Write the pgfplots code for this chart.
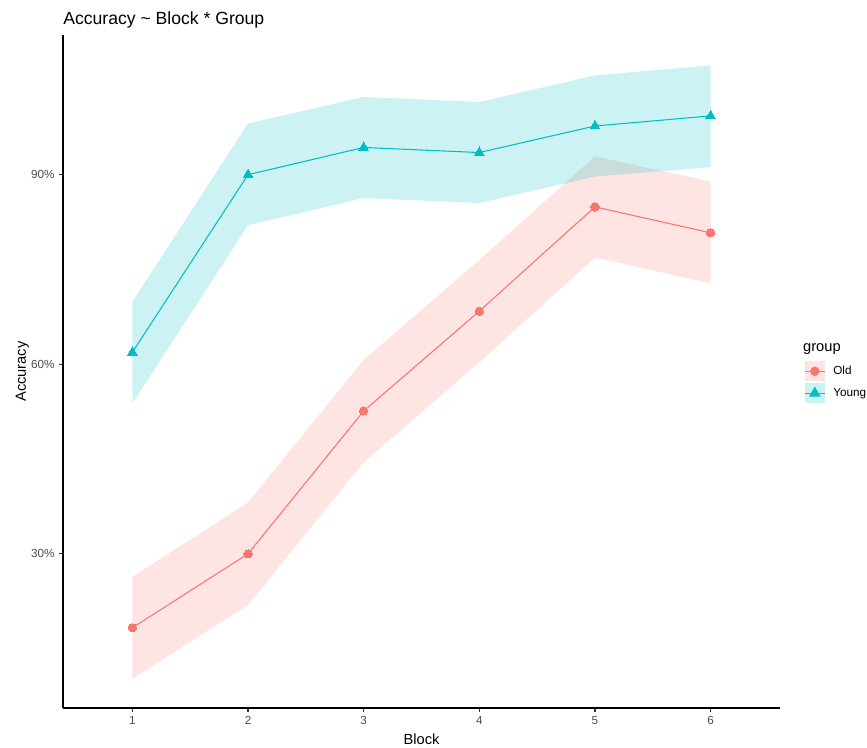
\documentclass[border=0pt]{standalone}
\usepackage{fontspec}
\setmainfont{Liberation Sans}
\usepackage{pgfplots}
\pgfplotsset{compat=1.18}
\definecolor{oldc}{HTML}{F8766D}
\definecolor{youngc}{HTML}{00BFC4}
\definecolor{gray30}{HTML}{4D4D4D}
\definecolor{gray20}{HTML}{333333}
\begin{document}
\begin{tikzpicture}
\useasboundingbox (0,0) rectangle (650.25pt,560.25pt);
\begin{axis}[
  at={(47.25pt,29.25pt)}, anchor=south west,
  scale only axis, width=537.75pt, height=504.75pt,
  xmin=0.4, xmax=6.6, ymin=5.6, ymax=112.1,
  axis lines*=left, axis line style={black, line width=0.8pt, -},
  xtick={1,2,3,4,5,6}, xticklabels={1,2,3,4,5,6},
  ytick={30,60,90}, yticklabels={30\%,60\%,90\%},
  tick align=outside, major tick length=2.75pt,
  tick style={gray20, line width=0.8pt},
  ticklabel style={font=\fontsize{8.8}{10}\selectfont, text=gray30},
  xlabel={Block}, ylabel={Accuracy},
  label style={font=\fontsize{11}{13}\selectfont},
  xlabel style={at={(axis description cs:0.5,-0.0535)}, anchor=base},
  ylabel style={at={(axis description cs:-0.0516,0.5)}, anchor=base},
  clip mode=individual,
  legend style={at={(axis description cs:1.0335,0.5156)}, anchor=north west,
    draw=none, fill=none, inner sep=0pt, row sep=1.5pt, column sep=4pt,
    font=\fontsize{8.8}{10}\selectfont},
  legend cell align=left,
]
% ribbons
\addplot[fill=oldc, fill opacity=0.2, draw=none, forget plot] coordinates {
  (1,26.35) (2,38.1) (3,60.7) (4,76.5) (5,92.9) (6,88.9)
  (6,72.8) (5,76.9) (4,60.3) (3,44.5) (2,21.9) (1,10.25)} -- cycle;
\addplot[fill=youngc, fill opacity=0.2, draw=none, forget plot] coordinates {
  (1,69.9) (2,98.1) (3,102.3) (4,101.5) (5,105.7) (6,107.3)
  (6,91.2) (5,89.7) (4,85.5) (3,86.3) (2,82.0) (1,53.8)} -- cycle;
% lines
\addplot[oldc, line width=0.8pt, mark=*, mark size=3.1pt, mark options={fill=oldc, draw=oldc, line width=0pt},
  legend image code/.code={
    \path[draw=none, fill=oldc, fill opacity=0.2] (0pt,-7.5pt) rectangle (15pt,7.5pt);
    \draw[oldc, line width=0.8pt] (0pt,0pt) -- (15pt,0pt);
    \draw[oldc, mark=*, mark size=3.1pt, mark options={fill=oldc, draw=oldc}] plot coordinates {(7.5pt,0pt)};
  }] coordinates {
  (1,18.3) (2,30.0) (3,52.6) (4,68.4) (5,84.9) (6,80.8)};
\addlegendentry{Old}
\addplot[youngc, line width=0.8pt, mark=triangle*, mark size=4.2pt, mark options={fill=youngc, draw=youngc, line width=0pt},
  legend image code/.code={
    \path[draw=none, fill=youngc, fill opacity=0.2] (0pt,-7.5pt) rectangle (15pt,7.5pt);
    \draw[youngc, line width=0.8pt] (0pt,0pt) -- (15pt,0pt);
    \draw[youngc, mark=triangle*, mark size=4.2pt, mark options={fill=youngc, draw=youngc}] plot coordinates {(7.5pt,0pt)};
  }] coordinates {
  (1,61.9) (2,90.0) (3,94.3) (4,93.5) (5,97.7) (6,99.3)};
\addlegendentry{Young}
\node[anchor=west, font=\fontsize{11}{13}\selectfont, inner sep=0pt] at (axis description cs:1.032,0.5334) {group};
\node[anchor=base west, font=\fontsize{13.2}{15}\selectfont, inner sep=0pt] at (axis description cs:0,1.0149) {Accuracy \textasciitilde{} Block * Group};
\end{axis}
\end{tikzpicture}
\end{document}
